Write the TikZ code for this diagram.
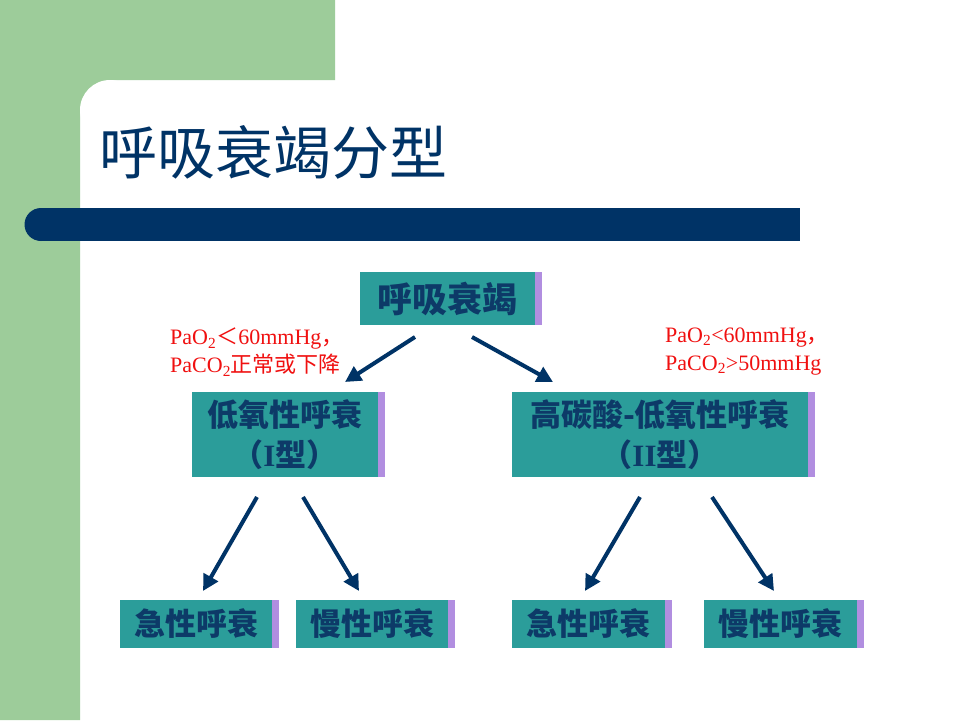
\documentclass[tikz,border=0pt]{standalone}
\usepackage{fontspec}
\setmainfont{Liberation Serif}
\newfontfamily\cjk{Noto Sans CJK SC}
\usetikzlibrary{arrows.meta,shadows}
\definecolor{bggreen}{HTML}{9DCC9A}
\definecolor{navy}{HTML}{003366}
\definecolor{boxteal}{HTML}{2B9D9A}
\definecolor{boxtext}{HTML}{0D3A68}
\definecolor{shpurple}{HTML}{B18EE0}
\definecolor{redtxt}{HTML}{F01010}
\tikzset{
  box/.style={fill=boxteal, text=boxtext, inner sep=0pt, align=center,
    font=\cjk\bfseries\fontsize{31}{40}\selectfont,
    general shadow={shadow xshift=6.5pt, fill=shpurple}},
  flow/.style={draw=navy, line width=4pt, -{Triangle[length=16pt,width=16pt]}},
  cond/.style={text=redtxt, anchor=north west, align=left, inner sep=0pt,
    font=\fontsize{22}{28}\selectfont}
}
\begin{document}
\begin{tikzpicture}[x=1pt,y=-1pt]
\useasboundingbox (0,0) rectangle (960,720);
\fill[white] (0,0) rectangle (960,720);
% green background
\fill[bggreen] (0,0) -- (335,0) -- (335,80) -- (80,80) -- (80,720) -- (0,720) -- cycle;
\fill[bggreen] (80,80) rectangle (110,110);
\fill[white] (110,110) circle[radius=30];
% title
\node[anchor=west, text=navy, font=\cjk\fontsize{58}{60}\selectfont, inner sep=0pt] (title) at (99,152) {呼吸衰竭分型};
% bar
\fill[navy] (41,224.5) circle[radius=16.5];
\fill[navy] (41,208) rectangle (800,241);
% boxes
\node[box, font=\cjk\bfseries\fontsize{35}{40}\selectfont, minimum width=175pt, minimum height=53pt] (top) at (447.5,298.5) {呼吸衰竭};
\node[box, minimum width=186pt, minimum height=85pt] (t1) at (285,434.5) {低氧性呼衰\\（{\rmfamily I}型）};
\node[box, minimum width=296pt, minimum height=85pt] (t2) at (660,434.5) {高碳酸-低氧性呼衰\\（{\rmfamily II}型）};
\node[box, minimum width=152pt, minimum height=48pt] (b1) at (196,624) {急性呼衰};
\node[box, minimum width=152pt, minimum height=48pt] (b2) at (372,624) {慢性呼衰};
\node[box, minimum width=153pt, minimum height=48pt] (b3) at (588.5,624) {急性呼衰};
\node[box, minimum width=153pt, minimum height=48pt] (b4) at (780.5,624) {慢性呼衰};
% conditions
\node[cond] (c1) at (170,328) {PaO\textsubscript{2}{\cjk ＜}60mmHg{\cjk ，}\\PaCO\textsubscript{2}{\cjk 正常或下降}};
\node[cond] (c2) at (665,328) {PaO\textsubscript{2}<60mmHg{\cjk ，}\\PaCO\textsubscript{2}>50mmHg};
% arrow endpoints
\coordinate (a1s) at (415,337); \coordinate (a1e) at (345,382);
\coordinate (a2s) at (472,337); \coordinate (a2e) at (553,382);
\coordinate (a3s) at (257,497); \coordinate (a3e) at (203,591);
\coordinate (a4s) at (303,497); \coordinate (a4e) at (359,591);
\coordinate (a5s) at (640,497); \coordinate (a5e) at (585,591);
\coordinate (a6s) at (712,497); \coordinate (a6e) at (774,591);
\draw[flow] (a1s) -- (a1e);
\draw[flow] (a2s) -- (a2e);
\draw[flow] (a3s) -- (a3e);
\draw[flow] (a4s) -- (a4e);
\draw[flow] (a5s) -- (a5e);
\draw[flow] (a6s) -- (a6e);
\end{tikzpicture}
\end{document}
